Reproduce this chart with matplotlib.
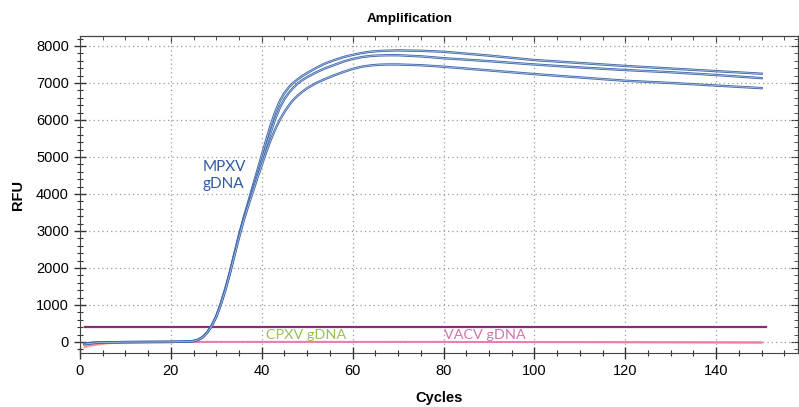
import matplotlib.pyplot as plt
from matplotlib.ticker import MultipleLocator

# MPXV gDNA amplification curves (three replicates)
cycles = [1, 3, 5, 10, 15, 20, 24, 25, 26, 27, 28, 29, 30, 31, 32, 33, 34, 35,
          36, 37, 38, 39, 40, 41, 42, 43, 44, 45, 46, 47, 48, 49, 50, 52, 54,
          56, 58, 60, 62, 64, 66, 68, 70, 75, 80, 90, 100, 110, 120, 130, 140,
          150]
mpxv_a = [-40, -20, -10, -5, -2, 0, 10, 25, 60, 130, 260, 450, 700, 1050,
          1450, 1900, 2400, 2900, 3350, 3770, 4200, 4620, 5050, 5470, 5880,
          6230, 6520, 6730, 6890, 7010, 7110, 7195, 7270, 7410, 7530, 7620,
          7700, 7760, 7810, 7845, 7865, 7875, 7880, 7870, 7845, 7740, 7620,
          7540, 7460, 7390, 7320, 7250]
mpxv_b = [-50, -25, -12, -5, -2, 0, 10, 25, 60, 130, 255, 440, 690, 1030,
          1430, 1880, 2380, 2870, 3320, 3720, 4120, 4520, 4900, 5300, 5680,
          6040, 6340, 6570, 6740, 6880, 6995, 7085, 7160, 7290, 7400, 7490,
          7580, 7650, 7700, 7730, 7745, 7750, 7750, 7720, 7670, 7590, 7500,
          7420, 7350, 7290, 7215, 7130]
mpxv_c = [-60, -30, -15, -5, -2, 0, 10, 22, 55, 125, 250, 430, 680, 1010,
          1400, 1850, 2340, 2820, 3270, 3670, 4040, 4420, 4780, 5140, 5470,
          5760, 6010, 6220, 6400, 6550, 6670, 6770, 6860, 7000, 7110, 7210,
          7300, 7380, 7440, 7475, 7495, 7500, 7500, 7480, 7440, 7340, 7240,
          7150, 7060, 7000, 6930, 6860]

# negative samples (CPXV, VACV) stay on baseline
neg_cycles = [1, 2, 4, 6, 10, 15, 20, 40, 60, 80, 100, 120, 140, 150]
cpxv = [-150, -110, -70, -40, -15, -5, 0, 0, 0, 0, -5, -5, -10, -10]
vacv = [-90, -70, -45, -25, -10, -3, 0, 0, 0, 0, -5, -10, -15, -20]

threshold = 410
thr_cycles = [1, 151]

blue = '#4069AA'
fig = plt.figure(figsize=(7.99, 4.07), dpi=100)
ax = fig.add_axes([80 / 799, (407 - 353) / 407, 718 / 799, (353 - 36) / 407])

ax.plot(neg_cycles, cpxv, color='#F4A08A', lw=1.4)
ax.plot(neg_cycles, vacv, color='#E77DB7', lw=1.4)
ax.plot(thr_cycles, [threshold, threshold], color='#8E2A7E', lw=1.6)
for s in (mpxv_a, mpxv_b, mpxv_c):
    ax.plot(cycles, s, color=blue, lw=1.7)
    ax.plot(cycles, s, color='#C3D3EB', lw=0.45)

ax.set_xlim(0, 158)
ax.set_ylim(-300, 8270)
ax.xaxis.set_major_locator(MultipleLocator(20))
ax.xaxis.set_minor_locator(MultipleLocator(5))
ax.yaxis.set_major_locator(MultipleLocator(1000))
ax.yaxis.set_minor_locator(MultipleLocator(200))
ax.grid(True, which='major', color='#9a9a9a', linestyle=(0, (1, 2.5)), lw=0.9)
ax.tick_params(which='major', direction='inout', length=9, width=1, labelsize=10.5, color='#333333')
ax.tick_params(which='minor', direction='inout', length=5, width=0.8, color='#333333')
for sp in ax.spines.values():
    sp.set_color('#444444')

top = ax.secondary_xaxis('top')
top.xaxis.set_minor_locator(MultipleLocator(5))
top.tick_params(which='major', direction='in', length=5, labeltop=False, color='#333333')
top.tick_params(which='minor', direction='in', length=3, color='#333333')
right = ax.secondary_yaxis('right')
right.yaxis.set_minor_locator(MultipleLocator(200))
right.tick_params(which='major', direction='in', length=5, labelright=False, color='#333333')
right.tick_params(which='minor', direction='in', length=3, color='#333333')

ax.set_xlabel('Cycles', fontsize=10.5, fontweight='bold', family='Liberation Sans', labelpad=9)
ax.set_ylabel('RFU', fontsize=10.5, fontweight='bold', family='Liberation Sans', labelpad=8)
for lab in ax.get_xticklabels() + ax.get_yticklabels():
    lab.set_family('Liberation Sans')
fig.text(410 / 799, 1 - 19 / 407, 'Amplification', ha='center', va='center',
         fontsize=9.7, fontweight='bold', family='Liberation Sans')

ax.text(27, 4500, 'MPXV\ngDNA', color='#2F5BA6', fontsize=11, family='Lato',
        ha='left', va='center', linespacing=1.25)
ax.text(41, 190, 'CPXV gDNA', color='#92C353', fontsize=10.4, family='Lato',
        ha='left', va='center')
ax.text(80.2, 190, 'VACV gDNA', color='#D274AC', fontsize=10.4, family='Lato',
        ha='left', va='center')

fig.savefig('out.png', dpi=100)
